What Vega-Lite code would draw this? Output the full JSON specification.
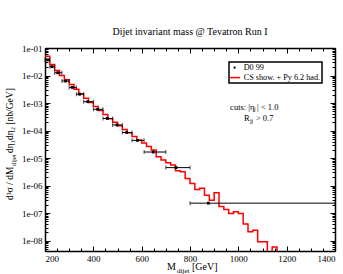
{
  "$schema": "https://vega.github.io/schema/vega-lite/v6.json",
  "width": 290,
  "height": 203,
  "autosize": {"type": "none"},
  "padding": {"left": 45, "top": 48, "right": 8, "bottom": 23},
  "background": "white",
  "title": {"text": "Dijet invariant mass @ Tevatron Run I", "font": "Liberation Serif", "fontSize": 10, "fontWeight": "normal", "color": "black", "offset": 7, "anchor": "middle"},
  "datasets": {
    "hist": [
      {"m": 200, "v": 0.0501, "series": "CS show. + Py 6.2 had."},
      {"m": 220, "v": 0.0251, "series": "CS show. + Py 6.2 had."},
      {"m": 240, "v": 0.0151, "series": "CS show. + Py 6.2 had."},
      {"m": 260, "v": 0.0100, "series": "CS show. + Py 6.2 had."},
      {"m": 280, "v": 0.00708, "series": "CS show. + Py 6.2 had."},
      {"m": 300, "v": 0.00468, "series": "CS show. + Py 6.2 had."},
      {"m": 320, "v": 0.00316, "series": "CS show. + Py 6.2 had."},
      {"m": 340, "v": 0.00219, "series": "CS show. + Py 6.2 had."},
      {"m": 360, "v": 0.00148, "series": "CS show. + Py 6.2 had."},
      {"m": 380, "v": 0.00105, "series": "CS show. + Py 6.2 had."},
      {"m": 400, "v": 0.000741, "series": "CS show. + Py 6.2 had."},
      {"m": 420, "v": 0.000537, "series": "CS show. + Py 6.2 had."},
      {"m": 440, "v": 0.000380, "series": "CS show. + Py 6.2 had."},
      {"m": 460, "v": 0.000269, "series": "CS show. + Py 6.2 had."},
      {"m": 480, "v": 0.000200, "series": "CS show. + Py 6.2 had."},
      {"m": 500, "v": 0.000148, "series": "CS show. + Py 6.2 had."},
      {"m": 520, "v": 0.000110, "series": "CS show. + Py 6.2 had."},
      {"m": 540, "v": 0.0000832, "series": "CS show. + Py 6.2 had."},
      {"m": 560, "v": 0.0000603, "series": "CS show. + Py 6.2 had."},
      {"m": 580, "v": 0.0000457, "series": "CS show. + Py 6.2 had."},
      {"m": 600, "v": 0.0000355, "series": "CS show. + Py 6.2 had."},
      {"m": 620, "v": 0.0000263, "series": "CS show. + Py 6.2 had."},
      {"m": 640, "v": 0.0000195, "series": "CS show. + Py 6.2 had."},
      {"m": 660, "v": 0.0000112, "series": "CS show. + Py 6.2 had."},
      {"m": 680, "v": 0.00000851, "series": "CS show. + Py 6.2 had."},
      {"m": 700, "v": 0.00000676, "series": "CS show. + Py 6.2 had."},
      {"m": 720, "v": 0.00000562, "series": "CS show. + Py 6.2 had."},
      {"m": 740, "v": 0.00000347, "series": "CS show. + Py 6.2 had."},
      {"m": 760, "v": 0.00000316, "series": "CS show. + Py 6.2 had."},
      {"m": 780, "v": 0.00000182, "series": "CS show. + Py 6.2 had."},
      {"m": 800, "v": 0.00000120, "series": "CS show. + Py 6.2 had."},
      {"m": 820, "v": 0.000000724, "series": "CS show. + Py 6.2 had."},
      {"m": 840, "v": 0.000000794, "series": "CS show. + Py 6.2 had."},
      {"m": 860, "v": 0.000000447, "series": "CS show. + Py 6.2 had."},
      {"m": 880, "v": 0.000000295, "series": "CS show. + Py 6.2 had."},
      {"m": 900, "v": 0.000000550, "series": "CS show. + Py 6.2 had."},
      {"m": 920, "v": 0.000000174, "series": "CS show. + Py 6.2 had."},
      {"m": 940, "v": 0.000000135, "series": "CS show. + Py 6.2 had."},
      {"m": 960, "v": 0.0000000977, "series": "CS show. + Py 6.2 had."},
      {"m": 980, "v": 0.000000112, "series": "CS show. + Py 6.2 had."},
      {"m": 1000, "v": 0.0000000977, "series": "CS show. + Py 6.2 had."},
      {"m": 1020, "v": 0.0000000398, "series": "CS show. + Py 6.2 had."},
      {"m": 1040, "v": 0.0000000209, "series": "CS show. + Py 6.2 had."},
      {"m": 1060, "v": 0.0000000240, "series": "CS show. + Py 6.2 had."},
      {"m": 1080, "v": 0.00000000912, "series": "CS show. + Py 6.2 had."},
      {"m": 1100, "v": 0.00000000912, "series": "CS show. + Py 6.2 had."},
      {"m": 1120, "v": 0.0000000035, "series": "CS show. + Py 6.2 had."},
      {"m": 1140, "v": 0.0000000059, "series": "CS show. + Py 6.2 had."},
      {"m": 1160, "v": 0.0000000025, "series": "CS show. + Py 6.2 had."},
      {"m": 1180, "v": 0.0000000025, "series": "CS show. + Py 6.2 had."}
    ],
    "d0": [
      {"lo": 200, "hi": 220, "m": 212, "v": 0.037, "series": "D0 99"},
      {"lo": 220, "hi": 240, "m": 229, "v": 0.021, "series": "D0 99"},
      {"lo": 240, "hi": 270, "m": 253, "v": 0.0126, "series": "D0 99"},
      {"lo": 270, "hi": 300, "m": 285, "v": 0.0063, "series": "D0 99"},
      {"lo": 300, "hi": 330, "m": 313, "v": 0.0037, "series": "D0 99"},
      {"lo": 330, "hi": 360, "m": 343, "v": 0.0021, "series": "D0 99"},
      {"lo": 360, "hi": 400, "m": 377, "v": 0.00112, "series": "D0 99"},
      {"lo": 400, "hi": 440, "m": 418, "v": 0.00059, "series": "D0 99"},
      {"lo": 440, "hi": 480, "m": 458, "v": 0.000275, "series": "D0 99"},
      {"lo": 480, "hi": 520, "m": 498, "v": 0.00016, "series": "D0 99"},
      {"lo": 520, "hi": 560, "m": 538, "v": 0.000085, "series": "D0 99"},
      {"lo": 560, "hi": 610, "m": 583, "v": 0.000044, "series": "D0 99"},
      {"lo": 610, "hi": 700, "m": 648, "v": 0.0000166, "series": "D0 99"},
      {"lo": 700, "hi": 800, "m": 742, "v": 0.0000045, "series": "D0 99"},
      {"lo": 800, "hi": 1400, "m": 876, "v": 0.00000023, "series": "D0 99"}
    ]
  },
  "resolve": {"scale": {"x": "shared", "y": "shared"}, "axis": {"x": "independent", "y": "independent"}},
  "layer": [
    {
      "data": {"name": "hist"},
      "mark": {"type": "line", "interpolate": "step-after", "strokeWidth": 1.5, "clip": true},
      "encoding": {
        "x": {"field": "m", "type": "quantitative", "scale": {"domain": [200, 1400], "nice": false, "zero": false},
          "axis": {"orient": "bottom", "values": [200, 400, 600, 800, 1000, 1200, 1400], "format": "d", "tickSize": -5, "labelPadding": 8, "title": null, "domainWidth": 1.5}},
        "y": {"field": "v", "type": "quantitative", "scale": {"type": "log", "domain": [4.2e-9, 0.1], "nice": false},
          "axis": {"orient": "left", "values": [0.1, 0.01, 0.001, 0.0001, 0.00001, 0.000001, 0.0000001, 0.00000001], "tickSize": -5, "labelPadding": 8, "labelExpr": "'1e-0' + round(-log(datum.value)/LN10)", "title": null, "domainWidth": 1.5}},
        "color": {"field": "series", "type": "nominal", "scale": {"domain": ["D0 99", "CS show. + Py 6.2 had."], "range": ["black", "red"]},
          "legend": {"orient": "none", "legendX": 184, "legendY": 14, "title": null, "strokeColor": "black", "fillColor": "white", "padding": 1.5, "labelFont": "Liberation Serif", "labelFontSize": 8.2, "labelColor": "black", "labelOffset": 5, "rowPadding": 1, "symbolSize": 121,
            "encode": {
              "legend": {"update": {"strokeWidth": {"value": 1.5}}},
              "symbols": {"update": {
                "shape": {"signal": "datum.value === 'D0 99' ? 'M-0.18,-0.18H0.18V0.18H-0.18Z' : 'stroke'"},
                "strokeWidth": {"signal": "datum.value === 'D0 99' ? 0 : 1.5"},
                "fill": {"signal": "datum.value === 'D0 99' ? 'black' : 'transparent'"},
                "stroke": {"signal": "datum.value === 'D0 99' ? 'black' : 'red'"},
                "opacity": {"value": 1}
              }}
            }}}
      }
    },
    {
      "data": {"name": "d0"},
      "mark": {"type": "rule", "color": "black", "strokeWidth": 1},
      "encoding": {
        "x": {"field": "lo", "type": "quantitative", "scale": {"domain": [200, 1400], "nice": false, "zero": false},
          "axis": {"orient": "top", "values": [200, 400, 600, 800, 1000, 1200, 1400], "tickSize": -5, "labels": false, "title": null, "domainWidth": 1.5}},
        "x2": {"field": "hi"},
        "y": {"field": "v", "type": "quantitative", "scale": {"type": "log", "domain": [4.2e-9, 0.1], "nice": false},
          "axis": {"orient": "right", "values": [0.1, 0.01, 0.001, 0.0001, 0.00001, 0.000001, 0.0000001, 0.00000001], "tickSize": -5, "labels": false, "title": null, "domainWidth": 1.5}}
      }
    },
    {
      "data": {"name": "d0"},
      "transform": [{"fold": ["lo", "hi"], "as": ["end", "edge"]}],
      "mark": {"type": "tick", "orient": "vertical", "color": "black", "size": 4, "thickness": 1},
      "encoding": {
        "x": {"field": "edge", "type": "quantitative", "scale": {"domain": [200, 1400], "nice": false, "zero": false},
          "axis": {"orient": "bottom", "values": [250, 300, 350, 450, 500, 550, 650, 700, 750, 850, 900, 950, 1050, 1100, 1150, 1250, 1300, 1350], "tickSize": -3, "labels": false, "domain": false, "title": null}},
        "y": {"field": "v", "type": "quantitative", "scale": {"type": "log", "domain": [4.2e-9, 0.1], "nice": false},
          "axis": {"orient": "left", "values": [0.09, 0.08, 0.07, 0.06, 0.05, 0.04, 0.03, 0.02, 0.009, 0.008, 0.007, 0.006, 0.005, 0.004, 0.003, 0.002, 0.0009, 0.0008, 0.0007, 0.0006, 0.0005, 0.0004, 0.0003, 0.0002, 0.00009, 0.00008, 0.00007, 0.00006, 0.00005, 0.00004, 0.00003, 0.00002, 0.000009, 0.000008, 0.000007, 0.000006, 0.000005, 0.000004, 0.000003, 0.000002, 9e-7, 8e-7, 7e-7, 6e-7, 5e-7, 4e-7, 3e-7, 2e-7, 9e-8, 8e-8, 7e-8, 6e-8, 5e-8, 4e-8, 3e-8, 2e-8, 9e-9, 8e-9, 7e-9, 6e-9, 5e-9], "tickSize": -3, "labels": false, "domain": false, "title": null}}
      }
    },
    {
      "data": {"name": "d0"},
      "mark": {"type": "point", "shape": "square", "filled": true, "size": 8, "opacity": 1},
      "encoding": {
        "x": {"field": "m", "type": "quantitative", "scale": {"domain": [200, 1400], "nice": false, "zero": false},
          "axis": {"orient": "top", "values": [250, 300, 350, 450, 500, 550, 650, 700, 750, 850, 900, 950, 1050, 1100, 1150, 1250, 1300, 1350], "tickSize": -3, "labels": false, "domain": false, "title": null}},
        "y": {"field": "v", "type": "quantitative", "scale": {"type": "log", "domain": [4.2e-9, 0.1], "nice": false},
          "axis": {"orient": "right", "values": [0.09, 0.08, 0.07, 0.06, 0.05, 0.04, 0.03, 0.02, 0.009, 0.008, 0.007, 0.006, 0.005, 0.004, 0.003, 0.002, 0.0009, 0.0008, 0.0007, 0.0006, 0.0005, 0.0004, 0.0003, 0.0002, 0.00009, 0.00008, 0.00007, 0.00006, 0.00005, 0.00004, 0.00003, 0.00002, 0.000009, 0.000008, 0.000007, 0.000006, 0.000005, 0.000004, 0.000003, 0.000002, 9e-7, 8e-7, 7e-7, 6e-7, 5e-7, 4e-7, 3e-7, 2e-7, 9e-8, 8e-8, 7e-8, 6e-8, 5e-8, 4e-8, 3e-8, 2e-8, 9e-9, 8e-9, 7e-9, 6e-9, 5e-9], "tickSize": -3, "labels": false, "domain": false, "title": null}},
        "color": {"field": "series", "type": "nominal", "scale": {"domain": ["D0 99", "CS show. + Py 6.2 had."], "range": ["black", "red"]}}
      }
    },
    {
      "data": {"values": [{}]},
      "layer": [
        {
          "mark": {"type": "text", "text": "cuts: |η", "align": "left", "fontSize": 8.5, "color": "black"},
          "encoding": {"x": {"datum": 966, "type": "quantitative", "axis": null}, "y": {"datum": 0.0007, "type": "quantitative", "axis": null}}
        },
        {
          "mark": {"type": "text", "text": "j", "align": "left", "fontSize": 6, "dx": 24, "dy": 2, "color": "black"},
          "encoding": {"x": {"datum": 966, "type": "quantitative", "axis": null}, "y": {"datum": 0.0007, "type": "quantitative", "axis": null}}
        },
        {
          "mark": {"type": "text", "text": "| < 1.0", "align": "left", "fontSize": 8.5, "dx": 27, "color": "black"},
          "encoding": {"x": {"datum": 966, "type": "quantitative", "axis": null}, "y": {"datum": 0.0007, "type": "quantitative", "axis": null}}
        },
        {
          "mark": {"type": "text", "text": "R", "align": "left", "fontSize": 8.5, "color": "black"},
          "encoding": {"x": {"datum": 1023, "type": "quantitative", "axis": null}, "y": {"datum": 0.000285, "type": "quantitative", "axis": null}}
        },
        {
          "mark": {"type": "text", "text": "jj", "align": "left", "fontSize": 6, "dx": 6, "dy": 2.5, "color": "black"},
          "encoding": {"x": {"datum": 1023, "type": "quantitative", "axis": null}, "y": {"datum": 0.000285, "type": "quantitative", "axis": null}}
        },
        {
          "mark": {"type": "text", "text": "> 0.7", "align": "left", "fontSize": 8.5, "dx": 12, "color": "black"},
          "encoding": {"x": {"datum": 1023, "type": "quantitative", "axis": null}, "y": {"datum": 0.000285, "type": "quantitative", "axis": null}}
        },
        {
          "mark": {"type": "text", "text": "M", "align": "left", "baseline": "alphabetic", "fontSize": 10, "dy": 19, "color": "black"},
          "encoding": {"x": {"datum": 705, "type": "quantitative", "axis": null}, "y": {"datum": 4.2e-9, "type": "quantitative", "axis": null}}
        },
        {
          "mark": {"type": "text", "text": "dijet", "align": "left", "baseline": "alphabetic", "fontSize": 7, "dx": 10, "dy": 22, "color": "black"},
          "encoding": {"x": {"datum": 705, "type": "quantitative", "axis": null}, "y": {"datum": 4.2e-9, "type": "quantitative", "axis": null}}
        },
        {
          "mark": {"type": "text", "text": "[GeV]", "align": "left", "baseline": "alphabetic", "fontSize": 10, "dx": 25, "dy": 19, "color": "black"},
          "encoding": {"x": {"datum": 705, "type": "quantitative", "axis": null}, "y": {"datum": 4.2e-9, "type": "quantitative", "axis": null}}
        },
        {
          "mark": {"type": "text", "text": "d³σ / dM", "align": "left", "baseline": "alphabetic", "angle": 270, "fontSize": 9.5, "dy": -32, "color": "black"},
          "encoding": {"x": {"datum": 200, "type": "quantitative", "axis": null}, "y": {"datum": 3e-7, "type": "quantitative", "axis": null}}
        },
        {
          "mark": {"type": "text", "text": "dijet", "align": "left", "baseline": "alphabetic", "angle": 270, "fontSize": 6.5, "dx": 34, "dy": -29, "color": "black"},
          "encoding": {"x": {"datum": 200, "type": "quantitative", "axis": null}, "y": {"datum": 3e-7, "type": "quantitative", "axis": null}}
        },
        {
          "mark": {"type": "text", "text": "dη₁dη₂ [nb/GeV]", "align": "left", "baseline": "alphabetic", "angle": 270, "fontSize": 9.5, "dx": 47, "dy": -32, "color": "black"},
          "encoding": {"x": {"datum": 200, "type": "quantitative", "axis": null}, "y": {"datum": 3e-7, "type": "quantitative", "axis": null}}
        }
      ]
    }
  ],
  "config": {
    "font": "Liberation Serif",
    "view": {"stroke": null},
    "axis": {"labelFont": "Liberation Serif", "labelFontSize": 9, "labelColor": "black", "tickColor": "black", "domainColor": "black", "grid": false, "tickWidth": 1},
    "text": {"font": "Liberation Serif"}
  }
}
